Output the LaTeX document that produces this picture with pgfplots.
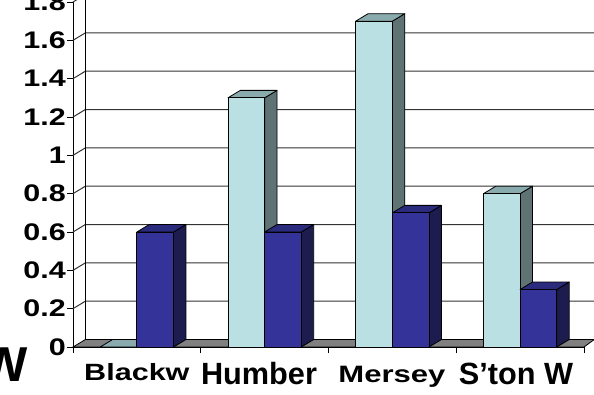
\documentclass[border=0pt]{standalone}
\usepackage{fontspec}
\setmainfont{Liberation Sans}
\usepackage{graphicx}
\usepackage{pgfplots}
\usepackage{pgfplotstable}
\pgfplotsset{compat=1.18}

\definecolor{cyanfront}{HTML}{BBE0E3}
\definecolor{cyanside}{HTML}{5F7374}
\definecolor{cyantop}{HTML}{8AABAE}
\definecolor{bluefront}{HTML}{333399}
\definecolor{blueside}{HTML}{1C1C4F}
\definecolor{bluetop}{HTML}{2B2B7E}
\definecolor{floorgray}{HTML}{808080}
\definecolor{gridgray}{HTML}{333333}

% values per site: light series and dark series
\pgfplotstableread{
site  light  dark
0     0      0.6
1     1.3    0.6
2     1.7    0.7
3     0.8    0.3
}\sitedata

% bar front width, depth offsets (axis units)
\def\bw{0.287}
\def\dx{0.097}
\def\dy{0.039}

% a 3D bar: left edge, value, front colour, side colour, top colour
\newcommand\prismbar[5]{%
  \pgfmathsetmacro\xa{#1}%
  \pgfmathsetmacro\xb{#1+\bw}%
  \pgfmathsetmacro\xc{#1+\dx}%
  \pgfmathsetmacro\xd{#1+\bw+\dx}%
  \pgfmathsetmacro\vf{#2}%
  \pgfmathsetmacro\vt{#2+\dy}%
  \edef\next{%
    \noexpand\addplot[barface, fill=#4] coordinates {(\xb,0) (\xd,\dy) (\xd,\vt) (\xb,\vf)} -- cycle;
    \noexpand\addplot[barface, fill=#5] coordinates {(\xa,\vf) (\xc,\vt) (\xd,\vt) (\xb,\vf)} -- cycle;
    \noexpand\addplot[barface, fill=#3] coordinates {(\xa,0) (\xa,\vf) (\xb,\vf) (\xb,0)} -- cycle;
  }\next
}

\begin{document}
\begin{tikzpicture}
\useasboundingbox (0,0) rectangle (594pt,395pt);
\begin{axis}[
  at={(73pt,48pt)}, anchor=south west,
  width=511pt, height=345pt, scale only axis,
  xmin=0, xmax=4, ymin=0, ymax=1.8,
  clip=false,
  axis x line*=bottom, axis y line*=left,
  axis line style={black, line width=0.9pt, -},
  xtick={0,1,2,3,4}, xticklabels={},
  ytick={0,0.2,0.4,0.6,0.8,1,1.2,1.4,1.6,1.8},
  tick align=outside, major tick length=6pt,
  tick style={black, line width=0.9pt},
  /pgf/number format/assume math mode=true,
  yticklabel={\scalebox{1.27}[1]{\pgfmathprintnumber{\tick}}},
  yticklabel style={font=\fontsize{24}{24}\selectfont\bfseries, inner sep=0pt, anchor=east, xshift=-1pt},
  barface/.style={draw=black, line width=0.8pt, line join=round},
  gridline/.style={draw=gridgray, line width=1pt},
]
% back wall grid and left wall diagonals
\pgfplotsforeachungrouped \g in {0.2,0.4,0.6,0.8,1,1.2,1.4,1.6,1.8}{%
  \pgfmathsetmacro\gb{\g+\dy}%
  \edef\next{\noexpand\addplot[gridline] coordinates {(0,\g) (\dx,\gb) (4.3,\gb)};}\next
}
\edef\next{\noexpand\addplot[gridline, draw=black] coordinates {(\dx,\dy) (\dx,1.95)};}\next
% floor
\edef\next{\noexpand\addplot[fill=floorgray, draw=black, line width=0.8pt] coordinates {(0,0) (\dx,\dy) (4.08,\dy) (4,0)} -- cycle;}\next
% bars
\pgfplotsforeachungrouped \i in {0,...,3}{%
  \pgfplotstablegetelem{\i}{light}\of\sitedata \let\vlight\pgfplotsretval
  \pgfplotstablegetelem{\i}{dark}\of\sitedata \let\vdark\pgfplotsretval
  \prismbar{\i+0.213}{\vlight}{cyanfront}{cyanside}{cyantop}%
  \prismbar{\i+0.5}{\vdark}{bluefront}{blueside}{bluetop}%
}
% category names
\node[anchor=base, font=\fontsize{23.5}{24}\selectfont\bfseries, yshift=-34pt] at (axis cs:0.5,0) {\scalebox{1.3}[1]{Blackw}};
\node[anchor=base, font=\fontsize{30.7}{31}\selectfont\bfseries, yshift=-38pt] at (axis cs:1.456,0) {Humber};
\node[anchor=base, font=\fontsize{23.7}{24}\selectfont\bfseries, yshift=-35.5pt] at (axis cs:2.497,0) {\scalebox{1.31}[1]{Mersey}};
\node[anchor=base, font=\fontsize{30.7}{31}\selectfont\bfseries, yshift=-38pt] at (axis cs:3.468,0) {S’ton W};
\end{axis}
\node[anchor=base west, font=\fontsize{49}{49}\selectfont\bfseries, inner sep=0pt] at (-19pt,13pt) {W};
\end{tikzpicture}
\end{document}
